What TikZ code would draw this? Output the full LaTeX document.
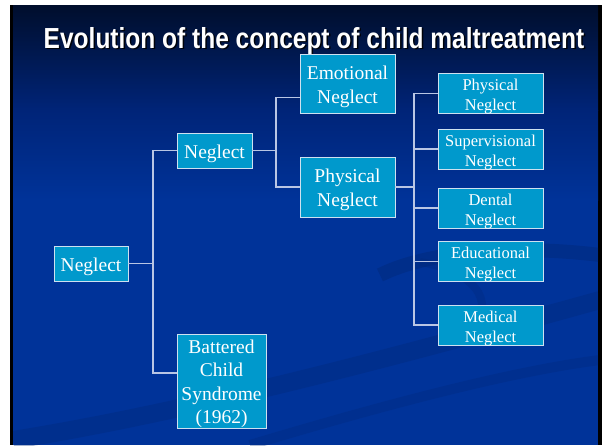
\documentclass[tikz,border=0pt]{standalone}
\usepackage{fontspec}
\setmainfont{Liberation Serif}
\newfontfamily\titlefont{Liberation Sans}

\definecolor{slidetop}{RGB}{0,14,44}
\definecolor{slidemid}{RGB}{0,36,120}
\definecolor{slideblue}{RGB}{0,51,153}
\definecolor{swoosh}{RGB}{0,40,120}
\definecolor{boxfill}{RGB}{0,153,204}
\definecolor{boxline}{RGB}{205,225,240}
\definecolor{linkcol}{RGB}{185,198,228}

% centred lines of box text, set a little below the geometric centre
% (the box keeps its natural extent, so only the ink moves down)
\newcommand\boxlines[1]{\raisebox{-3pt}[\height][\depth]{\begin{tabular}{@{}c@{}}#1\end{tabular}}}

\begin{document}
\begin{tikzpicture}[x=1pt,y=-1pt,
  box/.style={draw=boxline, line width=0.9pt, fill=boxfill, text=white,
    inner sep=0pt, font=\fontsize{19.5}{24}\selectfont},
  leaf/.style={box, minimum width=105pt, minimum height=40pt,
    font=\fontsize{16.5}{20}\selectfont},
  conn/.style={draw=linkcol, line width=1.2pt},
  titletext/.style={font=\titlefont\bfseries\fontsize{29}{32}\selectfont,
    inner sep=0pt, anchor=base}]

\useasboundingbox (0,0) rectangle (605,445);

% slide background with its dark edges
\fill[white] (0,0) rectangle (605,445);
\fill[black] (10,5) rectangle (602,445);
\shade[top color=slidetop, bottom color=slidemid] (13,5) rectangle (598,110);
\shade[top color=slidemid, bottom color=slideblue] (13,110) rectangle (598,200);
\fill[slideblue] (13,200) rectangle (598,445);

% faint swooshes in the lower part of the slide
\begin{scope}
  \clip (13,5) rectangle (598,445);
  \draw[swoosh, opacity=0.45, line width=14pt]
    (380,275) .. controls (430,250) and (520,245) .. (600,255);
  \draw[swoosh, opacity=0.35, line width=18pt]
    (13,440) .. controls (200,410) and (420,350) .. (600,300);
  \draw[swoosh, opacity=0.3, line width=10pt]
    (250,445) .. controls (400,400) and (520,370) .. (600,360);
  \draw[swoosh, opacity=0.3, line width=8pt]
    (470,330) .. controls (500,300) and (470,270) .. (420,262);
\end{scope}

% title with its drop shadow
\node[titletext, text=black, opacity=0.85] (titleshadow) at (315.5,49.5)
  {\scalebox{0.845}[1]{Evolution of the concept of child maltreatment}};
\node[titletext, text=white] (title) at (314,48)
  {\scalebox{0.845}[1]{Evolution of the concept of child maltreatment}};

% boxes
\node[box, minimum width=74pt, minimum height=35pt] (root) at (91,263.5) {\boxlines{Neglect}};
\node[box, minimum width=75pt, minimum height=35pt] (neglect) at (214.5,150.5) {\boxlines{Neglect}};
\node[box, minimum width=89pt, minimum height=92pt, font=\fontsize{19.5}{23.5}\selectfont]
  (battered) at (221.5,381) {\boxlines{Battered\\Child\\Syndrome\\(1962)}};
\node[box, minimum width=95pt, minimum height=59pt] (emotional) at (347.5,83.5) {\boxlines{Emotional\\Neglect}};
\node[box, minimum width=95pt, minimum height=60pt] (physical) at (347.5,187) {\boxlines{Physical\\Neglect}};

\node[leaf] (lphys) at (490.5,93.5)  {\boxlines{Physical\\Neglect}};
\node[leaf] (lsup)  at (490.5,149)   {\boxlines{Supervisional\\Neglect}};
\node[leaf] (ldent) at (490.5,208)   {\boxlines{Dental\\Neglect}};
\node[leaf] (ledu)  at (490.5,261.5) {\boxlines{Educational\\Neglect}};
\node[leaf] (lmed)  at (490.5,325)   {\boxlines{Medical\\Neglect}};

% junction points of the tree
\coordinate (j0) at (153,263.5);
\coordinate (j1) at (276,150.5);
\coordinate (j2) at (414,187);

% connectors
\draw[conn] (root.east) -- (j0);
\draw[conn] (j0) |- (neglect.west);
\draw[conn] (j0) |- ([yshift=8pt]battered.west);

\draw[conn] (neglect.east) -- (j1);
\draw[conn] (j1) |- ([yshift=-14pt]emotional.west);
\draw[conn] (j1) |- (physical.west);

\draw[conn] (physical.east) -- (j2);
\draw[conn] (j2) |- (lphys.west);
\draw[conn] (j2) |- (lsup.west);
\draw[conn] (j2) |- (ldent.west);
\draw[conn] (j2) |- (ledu.west);
\draw[conn] (j2) |- (lmed.west);
\end{tikzpicture}
\end{document}
